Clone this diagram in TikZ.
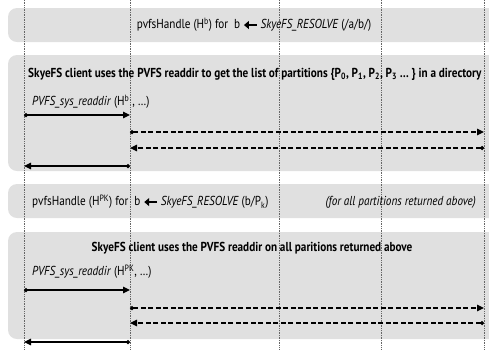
\documentclass[tikz,border=0pt]{standalone}
\usepackage{fontspec}
\setmainfont{PT Sans}[FakeStretch=0.86]
\usetikzlibrary{arrows.meta}

% bold arrow used inside the resolve lines
\newcommand{\resolvearrow}{\tikz[baseline=-0.6ex]\draw[line width=1.4pt,-{Triangle[length=5pt,width=8pt]}] (0,0) -- (-13pt,0);}

\begin{document}
\begin{tikzpicture}[x=1pt, y=-1pt,
    panel/.style={fill=black!12, rounded corners=9pt},
    lifeline/.style={line width=0.5pt, black!60, dash pattern=on 0.7pt off 1pt},
    msg/.style={line width=1.2pt, {Circle[length=4pt]}-{Triangle[length=7pt,width=6.5pt]}},
    reply/.style={msg, dash pattern=on 5pt off 2.5pt},
    label/.style={inner sep=0pt, font=\fontsize{13}{15}\selectfont}]
  \useasboundingbox (0,0) rectangle (489,349);
  \clip (0,0) rectangle (489,349);

  % Panels
  \fill[panel] (8,8) rectangle (500,42);
  \fill[panel] (8,55) rectangle (500,171);
  \fill[panel] (8,184) rectangle (500,218);
  \fill[panel] (8,232) rectangle (500,339);

  % Lifelines
  \foreach \x [count=\i] in {24,130,279,381,484} {
    \coordinate (top\i) at (\x,0);
    \coordinate (bot\i) at (\x,349);
    \draw[lifeline] (top\i) -- (bot\i);
  }

  % First lookup: the directory itself
  \node[label] (resolveA) at (254,25) {pvfsHandle (H\textsuperscript{b}) for\ \ b \resolvearrow\ \textit{SkyeFS\_RESOLVE} (/a/b/)};
  \node[label, anchor=west, font=\fontsize{13}{15}\selectfont\bfseries] (titleA) at (28,74)
    {SkyeFS client uses the PVFS readdir to get the list of partitions \{P\textsubscript{0}, P\textsubscript{1}, P\textsubscript{2}, P\textsubscript{3} \dots\ \} in a directory};
  \node[label, anchor=west] (callA) at (32,102) {\textit{PVFS\_sys\_readdir} (H\textsuperscript{b} , \dots)};

  \coordinate (a1) at (24,115);   \coordinate (a2) at (130,115);
  \coordinate (b1) at (130,132);  \coordinate (b2) at (484,132);
  \coordinate (c1) at (484,148);  \coordinate (c2) at (130,148);
  \coordinate (d1) at (130,166);  \coordinate (d2) at (24,166);
  \draw[msg] (a1) -- (a2);
  \draw[reply] (b1) -- (b2);
  \draw[reply] (c1) -- (c2);
  \draw[msg] (d1) -- (d2);

  % Second lookup: every partition
  \node[label, anchor=west] (resolveB) at (32,202) {pvfsHandle (H\textsuperscript{PK}) for\ \ b \resolvearrow\ \textit{SkyeFS\_RESOLVE} (b/P\textsubscript{k})};
  \node[label, anchor=east] (noteB) at (476,202) {\textit{(for all partitions returned above)}};
  \node[label, font=\fontsize{13}{15}\selectfont\bfseries] (titleB) at (252,248)
    {SkyeFS client uses the PVFS readdir on all paritions returned above};
  \node[label, anchor=west] (callB) at (32,272) {\textit{PVFS\_sys\_readdir} (H\textsuperscript{PK}, \dots)};

  \coordinate (e1) at (24,290);   \coordinate (e2) at (130,290);
  \coordinate (f1) at (130,308);  \coordinate (f2) at (484,308);
  \coordinate (g1) at (484,323);  \coordinate (g2) at (130,323);
  \coordinate (h1) at (130,342);  \coordinate (h2) at (24,342);
  \draw[msg] (e1) -- (e2);
  \draw[reply] (f1) -- (f2);
  \draw[reply] (g1) -- (g2);
  \draw[msg] (h1) -- (h2);
\end{tikzpicture}
\end{document}
